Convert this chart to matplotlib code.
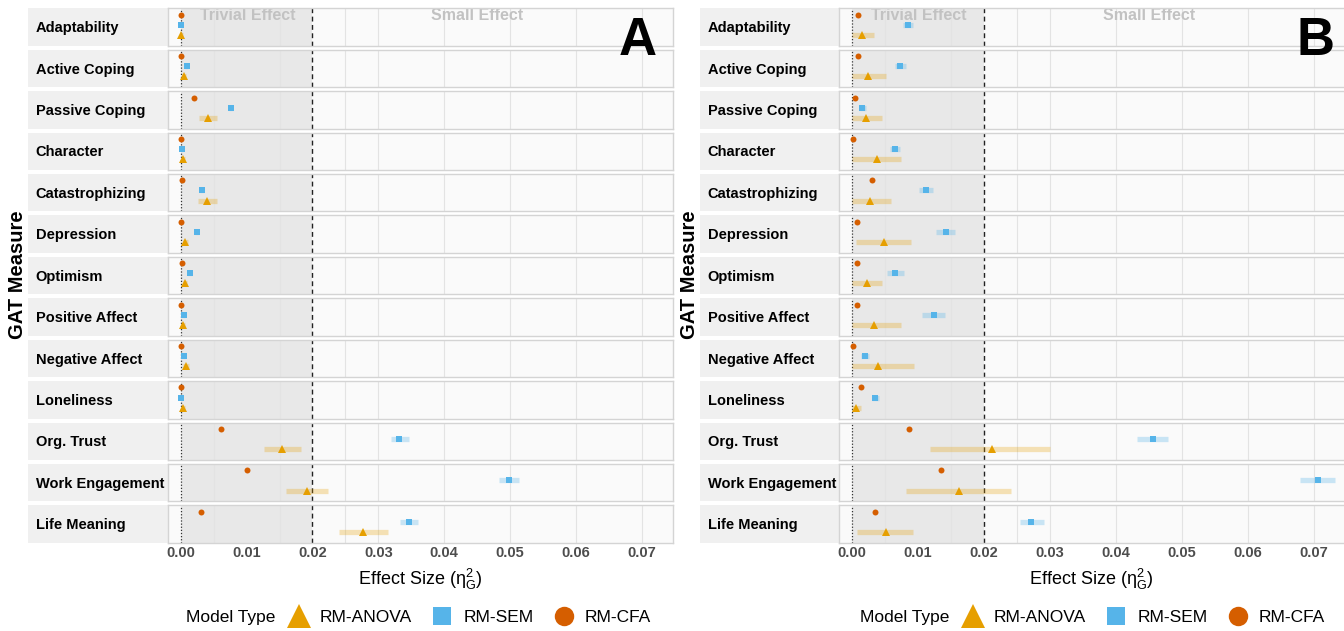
import matplotlib
matplotlib.use("Agg")
import matplotlib.pyplot as plt
from matplotlib.lines import Line2D

plt.rcParams['font.family'] = ['Liberation Sans', 'DejaVu Sans']
plt.rcParams['mathtext.fontset'] = 'custom'
plt.rcParams['mathtext.rm'] = 'Liberation Sans'
plt.rcParams['mathtext.it'] = 'Liberation Sans'

# GAT measures, one facet row each
measures = ["Adaptability", "Active Coping", "Passive Coping", "Character",
            "Catastrophizing", "Depression", "Optimism", "Positive Affect",
            "Negative Affect", "Loneliness", "Org. Trust", "Work Engagement",
            "Life Meaning"]

# panel A
a_cfa = [0.0000, 0.0001, 0.0020, 0.0000, 0.0002, 0.0001, 0.0002, 0.0000, 0.0000, 0.0001, 0.0061, 0.0101, 0.0031]
a_sem = [0.0001, 0.0009, 0.0077, 0.0002, 0.0033, 0.0025, 0.0014, 0.0005, 0.0005, 0.0000, 0.0332, 0.0498, 0.0346]
a_sem_lo = [0.0000, 0.0007, 0.0074, 0.0000, 0.0030, 0.0022, 0.0011, 0.0003, 0.0003, 0.0000, 0.0319, 0.0483, 0.0333]
a_sem_hi = [0.0002, 0.0011, 0.0080, 0.0004, 0.0036, 0.0028, 0.0017, 0.0007, 0.0007, 0.0002, 0.0346, 0.0514, 0.0360]
a_anova = [0.0001, 0.0005, 0.0042, 0.0003, 0.0040, 0.0007, 0.0007, 0.0003, 0.0008, 0.0004, 0.0153, 0.0192, 0.0277]
a_anova_lo = [0.0000, 0.0002, 0.0028, 0.0001, 0.0026, 0.0003, 0.0003, 0.0001, 0.0004, 0.0001, 0.0126, 0.0160, 0.0240]
a_anova_hi = [0.0003, 0.0008, 0.0055, 0.0006, 0.0055, 0.0011, 0.0010, 0.0006, 0.0012, 0.0007, 0.0182, 0.0223, 0.0315]

# panel B
b_cfa = [0.0010, 0.0010, 0.0005, 0.0002, 0.0030, 0.0008, 0.0008, 0.0007, 0.0001, 0.0014, 0.0086, 0.0135, 0.0035]
b_sem = [0.0085, 0.0073, 0.0016, 0.0065, 0.0112, 0.0142, 0.0066, 0.0125, 0.0020, 0.0035, 0.0456, 0.0707, 0.0272]
b_sem_lo = [0.0077, 0.0065, 0.0012, 0.0058, 0.0102, 0.0128, 0.0054, 0.0107, 0.0014, 0.0030, 0.0432, 0.0679, 0.0255]
b_sem_hi = [0.0092, 0.0082, 0.0021, 0.0073, 0.0123, 0.0156, 0.0079, 0.0141, 0.0026, 0.0041, 0.0479, 0.0733, 0.0292]
b_anova = [0.0015, 0.0025, 0.0021, 0.0038, 0.0028, 0.0049, 0.0023, 0.0033, 0.0040, 0.0006, 0.0212, 0.0163, 0.0051]
b_anova_lo = [0.0000, 0.0000, 0.0000, 0.0000, 0.0000, 0.0006, 0.0000, 0.0000, 0.0000, 0.0000, 0.0119, 0.0082, 0.0007]
b_anova_hi = [0.0034, 0.0051, 0.0045, 0.0075, 0.0059, 0.0090, 0.0046, 0.0075, 0.0094, 0.0014, 0.0301, 0.0241, 0.0093]

xticks = [0.00, 0.01, 0.02, 0.03, 0.04, 0.05, 0.06, 0.07]
grid_x = [0.005, 0.015, 0.025, 0.03, 0.04, 0.05, 0.06, 0.07]

C_ANOVA = '#E69F00'
C_SEM = '#56B4E9'
C_CFA = '#D55E00'

W, H = 1344, 631
fig = plt.figure(figsize=(W / 100, H / 100), dpi=100)

row_top0 = 8.3
row_pitch = 41.42
row_h = 37.5
XLIM = (-0.002, 0.0747)


def fx(px):
    return px / W


def fy(py):
    return 1 - py / H


def draw_panel(strip_x0, ax_x0, ax_x1, cfa, sem, sem_lo, sem_hi,
               anova, anova_lo, anova_hi, letter, letter_x):
    for i, name in enumerate(measures):
        top = row_top0 + i * row_pitch
        bottom = top + row_h

        strip = fig.add_axes([fx(strip_x0), fy(bottom), fx(ax_x0 - strip_x0), row_h / H])
        strip.set_facecolor('#F0F0F0')
        strip.set_xticks([])
        strip.set_yticks([])
        for s in strip.spines.values():
            s.set_visible(False)
        strip.text(0.055, 0.47, name, transform=strip.transAxes, ha='left', va='center',
                   fontsize=10.5, fontweight='bold', color='black')

        ax = fig.add_axes([fx(ax_x0), fy(bottom), fx(ax_x1 - ax_x0), row_h / H])
        ax.set_facecolor('#FAFAFA')
        ax.set_xlim(*XLIM)
        ax.set_ylim(1, 0)
        ax.axvspan(0, 0.02, color='#E8E8E8', lw=0, zorder=0)
        for g in grid_x:
            ax.axvline(g, color='#E3E3E3', lw=0.8, zorder=0.5)
        ax.axvline(0, color='#333333', ls=(0, (1, 1.5)), lw=0.9, zorder=1)
        ax.axvline(0.02, color='#222222', ls=(0, (3.5, 2.5)), lw=1.0, zorder=1)
        for s in ax.spines.values():
            s.set_color('#D4D4D4')
            s.set_linewidth(1.0)

        # confidence intervals
        ax.plot([anova_lo[i], anova_hi[i]], [0.71, 0.71], color=C_ANOVA, alpha=0.28,
                lw=3.8, solid_capstyle='butt', zorder=2)
        ax.plot([sem_lo[i], sem_hi[i]], [0.44, 0.44], color=C_SEM, alpha=0.3,
                lw=3.8, solid_capstyle='butt', zorder=2)
        # point estimates
        ax.plot(cfa[i], 0.17, 'o', color=C_CFA, ms=4.3, mew=0, zorder=3)
        ax.plot(sem[i], 0.44, 's', color=C_SEM, ms=4.2, mew=0, zorder=3)
        ax.plot(anova[i], 0.71, '^', color=C_ANOVA, ms=5.6, mew=0, zorder=3)

        ax.set_yticks([])
        if i == len(measures) - 1:
            ax.set_xticks(xticks)
            ax.set_xticklabels([f"{t:.2f}" for t in xticks], fontweight='bold',
                               color='#4D4D4D', fontsize=10.5)
            ax.tick_params(axis='x', length=0, pad=2.5)
        else:
            ax.set_xticks([])

        if i == 0:
            ax.text(0.0102, 0.2, "Trivial Effect", ha='center', va='center',
                    fontsize=11.5, fontweight='bold', color='#C2C2C2', zorder=2)
            ax.text(0.045, 0.2, "Small Effect", ha='center', va='center',
                    fontsize=11.5, fontweight='bold', color='#C2C2C2', zorder=2)

    fig.text(fx(letter_x), fy(41), letter, ha='center', va='center',
             fontsize=38, fontweight='bold', color='black', zorder=5)

    mid = (ax_x0 + ax_x1) / 2
    fig.text(fx(mid), fy(579.5), r'Effect Size ($\eta^2_G$)', ha='center', va='center',
             fontsize=13)


draw_panel(28, 167.5, 673, a_cfa, a_sem, a_sem_lo, a_sem_hi,
           a_anova, a_anova_lo, a_anova_hi, "A", 638)
draw_panel(700, 838.7, 1344.5, b_cfa, b_sem, b_sem_lo, b_sem_hi,
           b_anova, b_anova_lo, b_anova_hi, "B", 1315)

fig.text(fx(18), fy(275), "GAT Measure", rotation=90, ha='center', va='center',
         fontsize=14.5, fontweight='bold')
fig.text(fx(690), fy(275), "GAT Measure", rotation=90, ha='center', va='center',
         fontsize=14.5, fontweight='bold')

handles = [
    Line2D([], [], ls='none', marker='^', color=C_ANOVA, ms=17, mew=0, label='RM-ANOVA'),
    Line2D([], [], ls='none', marker='s', color=C_SEM, ms=13, mew=0, label='RM-SEM'),
    Line2D([], [], ls='none', marker='o', color=C_CFA, ms=14, mew=0, label='RM-CFA'),
]
for x_text in (186, 860):
    fig.text(fx(x_text), fy(617.5), "Model Type", ha='left', va='center', fontsize=12.5)
    fig.legend(handles=handles, loc='center left',
               bbox_to_anchor=(fx(x_text + 100), fy(617.5)), ncol=3, frameon=False,
               fontsize=12.5, handlelength=1.5, handletextpad=0.45, columnspacing=1.0,
               borderpad=0, borderaxespad=0)

fig.savefig("out.png", dpi=100)
